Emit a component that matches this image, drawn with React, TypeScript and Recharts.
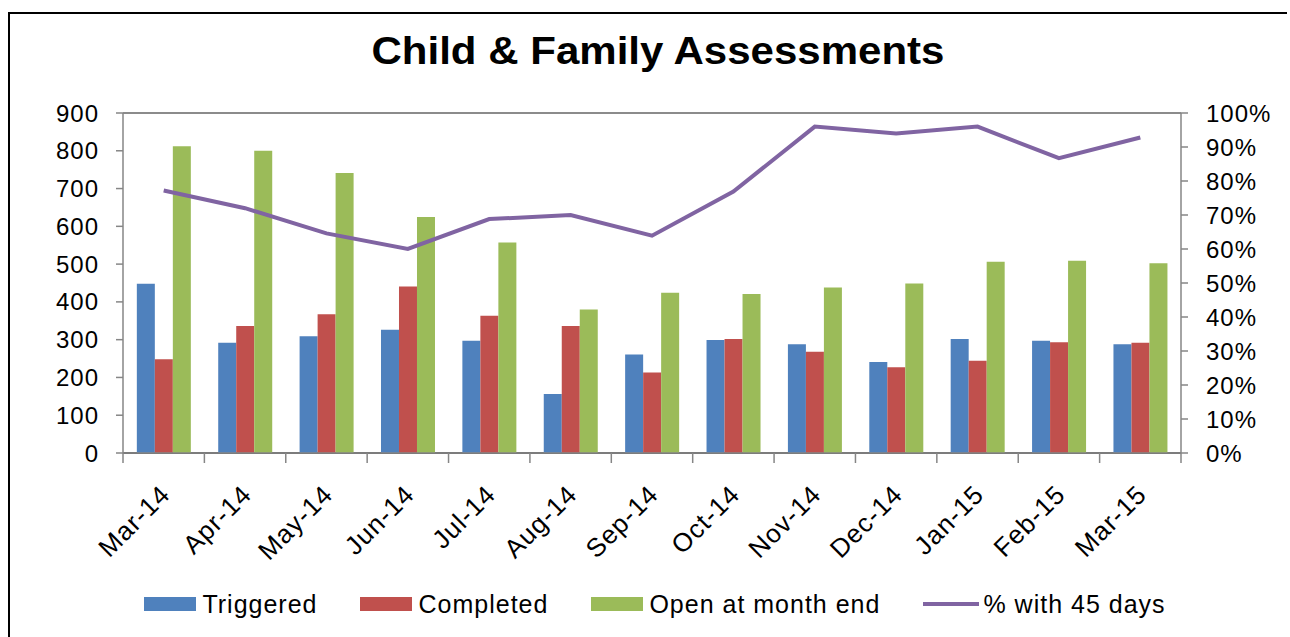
import React from "react"
import { ComposedChart, Bar, Line, XAxis, YAxis, CartesianGrid, Legend, ReferenceLine } from "recharts"

const months = ["Mar-14", "Apr-14", "May-14", "Jun-14", "Jul-14", "Aug-14", "Sep-14", "Oct-14", "Nov-14", "Dec-14", "Jan-15", "Feb-15", "Mar-15"]
const triggered = [448, 292, 309, 326, 297, 156, 261, 299, 288, 241, 302, 297, 288]
const completed = [248, 336, 367, 441, 363, 336, 213, 302, 268, 227, 244, 293, 292]
const openAtMonthEnd = [812, 800, 741, 625, 557, 380, 424, 421, 438, 449, 506, 509, 502]
const pctWithin45 = [0.772, 0.72, 0.646, 0.6, 0.688, 0.7, 0.639, 0.769, 0.96, 0.94, 0.96, 0.867, 0.928]

const leftTicks = [0, 100, 200, 300, 400, 500, 600, 700, 800, 900]
const rightTicks = [0, 0.1, 0.2, 0.3, 0.4, 0.5, 0.6, 0.7, 0.8, 0.9, 1]

const data = months.map((month, i) => ({
  month,
  triggered: triggered[i],
  completed: completed[i],
  open: openAtMonthEnd[i],
  pct: pctWithin45[i],
}))

const W = 1290
const H = 637
const LEFT = 123
const RIGHT = 109
const TOP = 113
const BOTTOM = 184
const LEGEND_H = 30
const FONT = "'Liberation Sans', Arial, sans-serif"
const band = (W - LEFT - RIGHT) / months.length

const legendItems = [
  { label: "Triggered", color: "#4F81BD", line: false },
  { label: "Completed", color: "#C0504D", line: false },
  { label: "Open at month end", color: "#9BBB59", line: false },
  { label: "% with 45 days", color: "#8064A2", line: true },
]

function MonthTick(props: any) {
  const { x, y, payload, index } = props
  const left = x - band / 2
  return (
    <g>
      <line x1={left} y1={y} x2={left} y2={y + 10} stroke="#868686" strokeWidth={1.5} />
      {index === months.length - 1 && (
        <line x1={x + band / 2} y1={y} x2={x + band / 2} y2={y + 10} stroke="#868686" strokeWidth={1.5} />
      )}
      <text
        x={0}
        y={0}
        transform={`translate(${x + 8},${y + 43}) rotate(-45)`}
        textAnchor="end"
        fontSize={26}
        fontFamily={FONT}
        fill="#000"
        letterSpacing={1}
      >
        {payload.value}
      </text>
    </g>
  )
}

function renderLegend() {
  return (
    <div
      style={{
        height: LEGEND_H,
        display: "flex",
        justifyContent: "center",
        alignItems: "center",
        fontFamily: FONT,
        fontSize: 25,
        letterSpacing: 1,
        color: "#000",
        paddingLeft: 20,
      }}
    >
      {legendItems.map((it, i) => (
        <div key={it.label} style={{ display: "flex", alignItems: "center", marginRight: i === legendItems.length - 1 ? 0 : 43 }}>
          {it.line ? (
            <div style={{ width: 56, height: 4, background: it.color, marginRight: 4 }} />
          ) : (
            <div style={{ width: 52, height: 14, background: it.color, marginRight: 6 }} />
          )}
          <span>{it.label}</span>
        </div>
      ))}
    </div>
  )
}

export default function App() {
  return (
    <div style={{ position: "absolute", left: 0, top: 0, width: W, height: H, background: "#fff" }}>
      <div style={{ position: "absolute", left: 8, top: 12, width: 1279, height: H - 12, borderTop: "2px solid #000", borderLeft: "2px solid #000", boxSizing: "border-box" }} />
      <svg width={W} height={80} style={{ position: "absolute", left: 0, top: 0 }}>
        <text
          x={658}
          y={64}
          textAnchor="middle"
          fontSize={38}
          fontWeight="bold"
          fontFamily={FONT}
          textLength={573}
          lengthAdjust="spacingAndGlyphs"
          fill="#000"
        >
          Child &amp; Family Assessments
        </text>
      </svg>
      <ComposedChart
        width={W}
        height={H}
        data={data}
        margin={{ top: TOP, right: 0, bottom: 0, left: 0 }}
        barCategoryGap="17%"
        barGap={0}
        style={{ position: "absolute", left: 0, top: 0 }}
      >
        <CartesianGrid horizontal vertical={false} stroke="#2e2e2e" strokeWidth={1.4} />
        <ReferenceLine yAxisId="left" y={900} stroke="#9a9a9a" strokeWidth={1.5} />
        <XAxis
          dataKey="month"
          height={BOTTOM - LEGEND_H}
          interval={0}
          tickSize={0}
          tickMargin={0}
          tickLine={false}
          axisLine={{ stroke: "#868686", strokeWidth: 1.5 }}
          tick={<MonthTick />}
        />
        <YAxis
          yAxisId="left"
          orientation="left"
          width={LEFT}
          domain={[0, 900]}
          ticks={leftTicks}
          interval={0}
          tickSize={7}
          tickMargin={17}
          axisLine={{ stroke: "#868686", strokeWidth: 1.5 }}
          tickLine={{ stroke: "#868686", strokeWidth: 1.5 }}
          tick={{ fontSize: 24, fontFamily: FONT, fill: "#000", letterSpacing: 1 }}
        />
        <YAxis
          yAxisId="right"
          orientation="right"
          width={RIGHT}
          domain={[0, 1]}
          ticks={rightTicks}
          interval={0}
          tickSize={7}
          tickMargin={18}
          tickFormatter={(v: number) => `${Math.round(v * 100)}%`}
          axisLine={{ stroke: "#868686", strokeWidth: 1.5 }}
          tickLine={{ stroke: "#868686", strokeWidth: 1.5 }}
          tick={{ fontSize: 24, fontFamily: FONT, fill: "#000", letterSpacing: 1 }}
        />
        <Bar yAxisId="left" dataKey="triggered" name="Triggered" fill="#4F81BD" isAnimationActive={false} />
        <Bar yAxisId="left" dataKey="completed" name="Completed" fill="#C0504D" isAnimationActive={false} />
        <Bar yAxisId="left" dataKey="open" name="Open at month end" fill="#9BBB59" isAnimationActive={false} />
        <Line
          yAxisId="right"
          dataKey="pct"
          name="% with 45 days"
          type="linear"
          stroke="#8064A2"
          strokeWidth={4}
          dot={false}
          activeDot={false}
          isAnimationActive={false}
        />
        <Legend verticalAlign="bottom" content={renderLegend} wrapperStyle={{ bottom: 18, left: 0, width: W }} />
      </ComposedChart>
    </div>
  )
}
